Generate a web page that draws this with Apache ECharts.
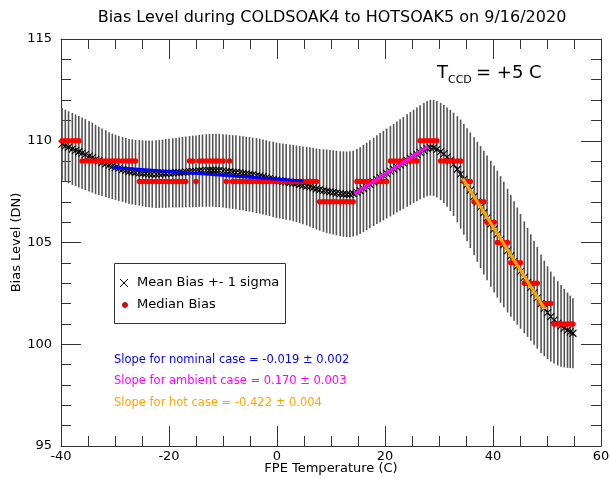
<!DOCTYPE html>
<html>
<head>
<meta charset="utf-8">
<script src="https://cdn.jsdelivr.net/npm/echarts@6/dist/echarts.min.js"></script>
<style>
  html, body { margin: 0; padding: 0; background: #ffffff; }
  #chart { width: 610px; height: 479px; }
</style>
</head>
<body>
<div id="chart"></div>
<script>
// FPE temperature (C) of each bias sample
const temperature = [
  -39.8,-39.2,-38.6,-37.9,-37.3,-36.7,-36.1,-35.5,-34.8,-34.2,
  -33.6,-33.0,-32.4,-31.7,-31.1,-30.5,-29.9,-29.3,-28.6,-28.0,
  -27.4,-26.8,-26.2,-25.5,-24.9,-24.3,-23.7,-23.1,-22.4,-21.8,
  -21.2,-20.6,-20.0,-19.3,-18.7,-18.1,-17.5,-16.9,-16.2,-15.6,
  -15.0,-14.4,-13.8,-13.1,-12.5,-11.9,-11.3,-10.7,-10.0,-9.4,
  -8.8,-8.2,-7.6,-6.9,-6.3,-5.7,-5.1,-4.5,-3.8,-3.2,
  -2.6,-2.0,-1.4,-0.7,-0.1,0.5,1.1,1.7,2.4,3.0,
  3.6,4.2,4.8,5.5,6.1,6.7,7.3,7.9,8.6,9.2,
  9.8,10.4,11.0,11.7,12.3,12.9,13.5,14.1,14.8,15.4,
  16.0,16.6,17.2,17.9,18.5,19.1,19.7,20.3,21.0,21.6,
  22.2,22.8,23.4,24.1,24.7,25.3,25.9,26.5,27.2,27.8,
  28.4,29.0,29.6,30.3,30.9,31.5,32.1,32.7,33.4,34.0,
  34.6,35.2,35.8,36.5,37.1,37.7,38.3,38.9,39.6,40.2,
  40.8,41.4,42.0,42.7,43.3,43.9,44.5,45.1,45.8,46.4,
  47.0,47.6,48.2,48.9,49.5,50.1,50.7,51.3,52.0,52.6,
  53.2,53.8,54.3,54.8
];

// Mean bias level (DN)
const meanBias = [
  109.83,109.75,109.68,109.60,109.53,109.46,109.39,109.32,109.24,109.17,
  109.08,109.01,108.94,108.87,108.80,108.74,108.69,108.64,108.59,108.54,
  108.50,108.47,108.44,108.42,108.40,108.38,108.37,108.36,108.36,108.37,
  108.38,108.39,108.41,108.42,108.43,108.44,108.45,108.47,108.48,108.49,
  108.50,108.52,108.53,108.54,108.55,108.55,108.55,108.54,108.52,108.50,
  108.48,108.46,108.45,108.42,108.40,108.37,108.35,108.32,108.29,108.26,
  108.22,108.18,108.14,108.10,108.06,108.03,108.01,107.98,107.95,107.92,
  107.89,107.85,107.81,107.77,107.73,107.68,107.63,107.59,107.55,107.52,
  107.49,107.46,107.43,107.40,107.38,107.37,107.37,107.40,107.47,107.55,
  107.65,107.75,107.86,107.98,108.09,108.19,108.29,108.39,108.50,108.60,
  108.71,108.81,108.91,109.03,109.13,109.23,109.33,109.43,109.53,109.61,
  109.66,109.65,109.58,109.47,109.35,109.20,109.03,108.84,108.60,108.36,
  108.10,107.84,107.57,107.27,107.00,106.74,106.47,106.21,105.92,105.66,
  105.41,105.15,104.90,104.60,104.34,104.09,103.84,103.58,103.29,103.04,
  102.79,102.53,102.28,101.99,101.76,101.55,101.36,101.19,101.03,100.90,
  100.79,100.69,100.61,100.54
];

// One-sigma spread of the bias level (DN)
const sigmaBias = [
  1.78,1.78,1.77,1.77,1.76,1.76,1.75,1.74,1.73,1.72,
  1.70,1.68,1.66,1.64,1.62,1.61,1.60,1.60,1.59,1.59,
  1.59,1.60,1.60,1.61,1.62,1.63,1.64,1.65,1.66,1.67,
  1.68,1.69,1.69,1.70,1.71,1.72,1.73,1.74,1.75,1.76,
  1.76,1.77,1.78,1.78,1.79,1.79,1.80,1.80,1.80,1.81,
  1.81,1.81,1.82,1.82,1.82,1.83,1.83,1.83,1.84,1.84,
  1.84,1.84,1.84,1.85,1.85,1.85,1.85,1.86,1.86,1.87,
  1.88,1.89,1.91,1.93,1.95,1.97,1.99,2.01,2.03,2.05,
  2.06,2.07,2.08,2.09,2.10,2.10,2.11,2.11,2.12,2.13,
  2.14,2.15,2.16,2.17,2.18,2.19,2.20,2.21,2.22,2.23,
  2.24,2.25,2.26,2.27,2.28,2.29,2.30,2.31,2.33,2.34,
  2.35,2.36,2.37,2.39,2.41,2.44,2.48,2.54,2.61,2.68,
  2.72,2.78,2.84,2.90,2.95,3.00,3.04,3.07,3.10,3.12,
  3.12,3.11,3.08,3.04,2.99,2.94,2.88,2.82,2.75,2.68,
  2.62,2.56,2.50,2.42,2.35,2.28,2.21,2.14,2.07,2.01,
  1.93,1.85,1.78,1.72
];

// Median bias level (DN), integer valued
const medianBias = [
  110,110,110,110,110,110,109,109,109,109,
  109,109,109,109,109,109,109,109,109,109,
  109,109,109,108,108,108,108,108,108,108,
  108,108,108,108,108,108,108,108,109,109,
  108,109,109,109,109,109,109,109,109,108,
  109,108,108,108,108,108,108,108,108,108,
  108,108,108,108,108,108,108,108,108,108,
  108,108,108,108,108,108,108,107,107,107,
  107,107,107,107,107,107,107,107,108,108,
  108,108,108,108,108,108,108,108,109,109,
  109,109,109,109,109,109,109,110,110,110,
  110,110,110,109,109,109,109,109,109,109,
  108,108,108,107,107,107,107,106,106,106,
  105,105,105,105,104,104,104,104,103,103,
  103,103,103,102,102,102,102,101,101,101,
  101,101,101,101
];

// Linear fits over the three temperature regimes
const fitCases  = ['nominal', 'ambient', 'hot'];
const fitSlopes = [-0.019, 0.170, -0.422];
const fitErrors = [0.002, 0.003, 0.004];
const fitFromT  = [-30.3, 14.4, 34.4];
const fitToT    = [4.9, 28.0, 49.6];
const fitFromV  = [108.69, 107.40, 108.14];
const fitColors = ['#0000ff', '#ff00ff', '#ffa500'];

const titleText = 'Bias Level during COLDSOAK4 to HOTSOAK5 on 9/16/2020';
const xName = 'FPE Temperature (C)';
const yName = 'Bias Level (DN)';
const legendLabels = ['Mean Bias +- 1 sigma', 'Median Bias'];

const FONT = 'DejaVu Sans';
const AXIS_COLOR = '#333333';

const meanData = temperature.map((t, i) => [t, meanBias[i], sigmaBias[i]]);
const medianData = temperature.map((t, i) => [t, medianBias[i]]);

const fitSeries = fitCases.map((name, i) => ({
  name: name + ' fit',
  type: 'line',
  data: [
    [fitFromT[i], fitFromV[i]],
    [fitToT[i], fitFromV[i] + fitSlopes[i] * (fitToT[i] - fitFromT[i])]
  ],
  symbol: 'none',
  lineStyle: { color: fitColors[i], width: 3 },
  z: 6,
  silent: true,
  animation: false
}));

function axisCommon(extra) {
  return Object.assign({
    type: 'value',
    axisLine: { show: true, onZero: false, lineStyle: { color: AXIS_COLOR, width: 1 } },
    axisTick: { show: true, inside: true, length: 20, lineStyle: { color: AXIS_COLOR, width: 1 } },
    splitLine: { show: false },
    minorSplitLine: { show: false },
    nameMoveOverlap: false
  }, extra);
}

const slopeTexts = fitCases.map((name, i) => ({
  type: 'text',
  left: 114,
  top: 354 + i * 21.5,
  style: {
    text: 'Slope for ' + name + ' case = ' + fitSlopes[i].toFixed(3) + ' \u00b1 ' + fitErrors[i].toFixed(3),
    fill: fitColors[i],
    font: '11.5px "' + FONT + '"'
  },
  z: 100
}));

// legend cross glyph
const crossLines = [[-4, -4, 4, 4], [-4, 4, 4, -4]].map(s => ({
  type: 'line',
  shape: { x1: 124 + s[0], y1: 283 + s[1], x2: 124 + s[2], y2: 283 + s[3] },
  style: { stroke: '#000', lineWidth: 1 },
  z: 100
}));

const chart = echarts.init(document.getElementById('chart'), null, { renderer: 'canvas' });

chart.setOption({
  backgroundColor: '#ffffff',
  animation: false,
  grid: { left: 61, right: 9, top: 39, bottom: 33, containLabel: false, outerBoundsMode: 'none' },
  xAxis: [
    axisCommon({
      position: 'bottom', min: -40, max: 60, interval: 20,
      minorTick: { show: true, splitNumber: 4, length: 10, lineStyle: { color: AXIS_COLOR } },
      axisLabel: { color: '#000', fontFamily: FONT, fontSize: 13, margin: 4 },
      name: xName, nameLocation: 'middle', nameGap: 16,
      nameTextStyle: { color: '#000', fontFamily: FONT, fontSize: 13 }
    }),
    axisCommon({
      position: 'top', min: -40, max: 60, interval: 20,
      minorTick: { show: true, splitNumber: 4, length: 10, lineStyle: { color: AXIS_COLOR } },
      axisLabel: { show: false }
    })
  ],
  yAxis: [
    axisCommon({
      position: 'left', min: 95, max: 115, interval: 5,
      minorTick: { show: true, splitNumber: 5, length: 10, lineStyle: { color: AXIS_COLOR } },
      axisLabel: { color: '#000', fontFamily: FONT, fontSize: 13, margin: 9 },
      name: yName, nameLocation: 'middle', nameGap: 38,
      nameTextStyle: { color: '#000', fontFamily: FONT, fontSize: 13 }
    }),
    axisCommon({
      position: 'right', min: 95, max: 115, interval: 5,
      minorTick: { show: true, splitNumber: 5, length: 10, lineStyle: { color: AXIS_COLOR } },
      axisLabel: { show: false }
    })
  ],
  series: [
    {
      name: 'sigma',
      type: 'custom',
      data: meanData,
      silent: true,
      z: 2,
      renderItem: function (params, api) {
        const t = api.value(0), m = api.value(1), s = api.value(2);
        const hi = api.coord([t, m + s]);
        const lo = api.coord([t, m - s]);
        return {
          type: 'line',
          shape: { x1: hi[0], y1: hi[1], x2: lo[0], y2: lo[1] },
          style: { stroke: '#555555', lineWidth: 1.6 }
        };
      }
    },
    {
      name: legendLabels[0],
      type: 'custom',
      data: meanData,
      silent: true,
      z: 3,
      renderItem: function (params, api) {
        const p = api.coord([api.value(0), api.value(1)]);
        const h = 3.5;
        return {
          type: 'group',
          children: [
            { type: 'line', shape: { x1: p[0] - h, y1: p[1] - h, x2: p[0] + h, y2: p[1] + h }, style: { stroke: '#000', lineWidth: 1.1 } },
            { type: 'line', shape: { x1: p[0] - h, y1: p[1] + h, x2: p[0] + h, y2: p[1] - h }, style: { stroke: '#000', lineWidth: 1.1 } }
          ]
        };
      }
    },
    {
      name: legendLabels[1],
      type: 'scatter',
      data: medianData,
      symbol: 'circle',
      symbolSize: 5.5,
      itemStyle: { color: '#ff0000', opacity: 1 },
      silent: true,
      z: 4
    }
  ].concat(fitSeries),
  graphic: [
    {
      type: 'text', x: 332, y: 18,
      style: { text: titleText, fill: '#000', font: '16px "' + FONT + '"', textAlign: 'center', textVerticalAlign: 'middle' },
      z: 100
    },
    {
      type: 'text', x: 437, y: 82,
      style: { text: 'T', fill: '#000', font: '18px "' + FONT + '"', textAlign: 'left', textVerticalAlign: 'bottom' },
      z: 100
    },
    {
      type: 'text', x: 448, y: 86,
      style: { text: 'CCD', fill: '#000', font: '11px "' + FONT + '"', textAlign: 'left', textVerticalAlign: 'bottom' },
      z: 100
    },
    {
      type: 'text', x: 476, y: 82,
      style: { text: '= +5 C', fill: '#000', font: '18px "' + FONT + '"', textAlign: 'left', textVerticalAlign: 'bottom' },
      z: 100
    },
    {
      type: 'rect',
      shape: { x: 114.5, y: 263.5, width: 171, height: 60 },
      style: { fill: '#ffffff', stroke: '#333333', lineWidth: 1 },
      z: 90
    },
    {
      type: 'text', x: 137, y: 283,
      style: { text: legendLabels[0], fill: '#000', font: '13px "' + FONT + '"', textVerticalAlign: 'middle' },
      z: 100
    },
    {
      type: 'circle', shape: { cx: 125, cy: 305, r: 2.5 },
      style: { fill: '#ff0000', stroke: '#800000', lineWidth: 0.8 },
      z: 100
    },
    {
      type: 'text', x: 137, y: 305,
      style: { text: legendLabels[1], fill: '#000', font: '13px "' + FONT + '"', textVerticalAlign: 'middle' },
      z: 100
    }
  ].concat(crossLines, slopeTexts)
});
</script>
</body>
</html>
